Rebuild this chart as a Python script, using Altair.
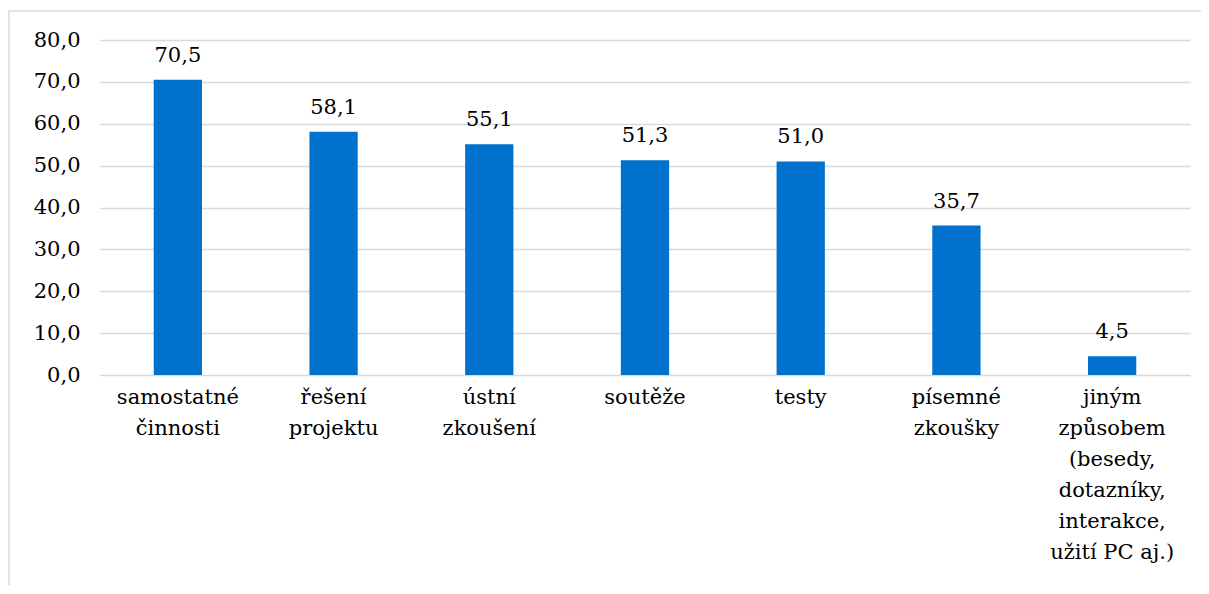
import altair as alt
import pandas as pd

categories = [
    "samostatné|činnosti",
    "řešení|projektu",
    "ústní|zkoušení",
    "soutěže",
    "testy",
    "písemné|zkoušky",
    "jiným|způsobem|(besedy,|dotazníky,|interakce,|užití PC aj.)",
]
values = [70.5, 58.1, 55.1, 51.3, 51.0, 35.7, 4.5]

df = pd.DataFrame({"cat": categories, "val": values})

FONT = "DejaVu Serif"

x_enc = alt.X(
    "cat:N",
    sort=categories,
    title=None,
    scale=alt.Scale(paddingInner=0.69, paddingOuter=0.345),
    axis=alt.Axis(
        labelAngle=0,
        labelExpr="split(datum.label, '|')",
        labelFontSize=21,
        labelFont=FONT,
        labelColor="black",
        labelLineHeight=31,
        labelPadding=11,
        ticks=False,
        domain=True,
        domainColor="#D9D9D9",
        labelLimit=300,
        labelBaseline="top",
    ),
)

y_enc = alt.Y(
    "val:Q",
    title=None,
    scale=alt.Scale(domain=[0, 80], nice=False),
    axis=alt.Axis(
        values=[0, 10, 20, 30, 40, 50, 60, 70, 80],
        labelExpr="replace(format(datum.value, '.1f'), '.', ',')",
        labelFontSize=21,
        labelFont=FONT,
        labelColor="black",
        labelPadding=20,
        ticks=False,
        domain=False,
        grid=True,
        gridColor="#D9D9D9",
        gridWidth=1.3,
    ),
)

base = alt.Chart(df)

bars = base.mark_bar(color="#0071CD").encode(x=x_enc, y=y_enc)

labels = base.transform_calculate(
    lbl="replace(format(datum.val, '.1f'), '.', ',')"
).mark_text(
    dy=-14, baseline="bottom", fontSize=21, font=FONT, color="black"
).encode(x=alt.X("cat:N", sort=categories), y="val:Q", text="lbl:N")

border = alt.Chart(pd.DataFrame({"a": [0]})).mark_rect(
    fill=None, stroke="#D9D9D9", strokeWidth=1.5, clip=False
).encode(
    x=alt.value(-91), x2=alt.value(1200), y=alt.value(-29), y2=alt.value(600)
)

chart = (
    alt.layer(border, bars, labels)
    .properties(
        width=1090,
        height=335,
        autosize=alt.AutoSizeParams(type="none"),
        padding={"left": 92, "top": 32, "right": 11, "bottom": 210},
    )
    .configure(font=FONT)
    .configure_view(stroke=None)
)

chart.save("out.html", embed_options={"renderer": "svg", "actions": False})
